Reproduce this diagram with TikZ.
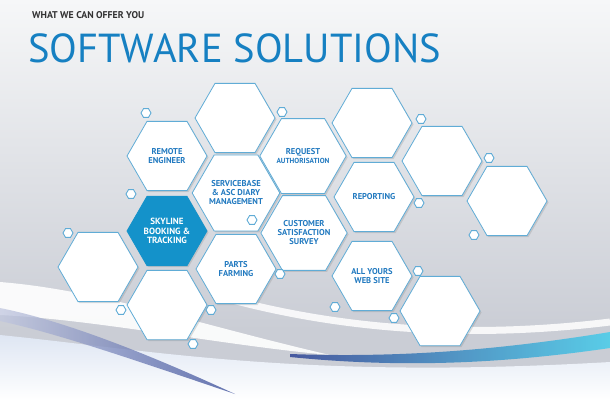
\documentclass[tikz,border=0pt]{standalone}
\usepackage{fontspec}
\setmainfont{PT Sans}
\usetikzlibrary{shapes.geometric,shadows,positioning}
\definecolor{hexline}{RGB}{96,172,214}
\definecolor{hextext}{RGB}{34,122,192}
\definecolor{skyblue}{RGB}{20,146,202}
\definecolor{titleblue}{RGB}{22,128,194}
\definecolor{subgray}{RGB}{50,50,50}
\definecolor{bgtop}{RGB}{246,247,248}
\definecolor{bgmid}{RGB}{202,205,213}
\definecolor{bglow}{RGB}{222,230,243}
\definecolor{streakblue}{RGB}{50,70,150}
\definecolor{streakcyan}{RGB}{70,205,235}
\tikzset{
  hexcell/.style={regular polygon,regular polygon sides=6,minimum size=80pt,
                  inner sep=0pt,draw=hexline,line width=0.8pt,fill=white,
                  align=center,text=hextext,
                  font=\fontsize{8.5}{9}\selectfont\bfseries,
                  drop shadow={shadow xshift=1.5pt,shadow yshift=-1.5pt,opacity=0.25}},
  hexon/.style={hexcell,fill=skyblue,draw=skyblue,text=white,
                font=\fontsize{9}{9.5}\selectfont\bfseries},
  hexdot/.style={regular polygon,regular polygon sides=6,minimum size=10pt,
                 inner sep=0pt,draw=hexline,line width=0.9pt,fill=white},
}

\begin{document}
\begin{tikzpicture}[x=1pt,y=-1pt]
  \useasboundingbox (0,0) rectangle (610,400);
  % backdrop and swooshes
  \shade[top color=bgtop,bottom color=bgmid] (0,0) rectangle (610,330);
  \fill[bgmid] (0,330) rectangle (610,400);
  \shade[top color=bglow,bottom color=white] (0,335)
        .. controls (150,350) and (300,380) .. (610,362)
        -- (610,400) -- (0,400) -- cycle;
  \fill[white,opacity=0.9] (0,282) .. controls (100,290) and (200,325) .. (330,355)
        .. controls (220,345) and (100,320) .. (0,315) -- cycle;
  \shade[left color=streakblue!30!white,right color=streakblue,opacity=0.75]
        (0,308) .. controls (60,320) and (140,350) .. (235,394)
        .. controls (140,362) and (60,334) .. (0,321) -- cycle;
  \shade[left color=streakblue,right color=streakcyan,opacity=0.85]
        (290,354) .. controls (400,358) and (500,350) .. (610,332)
        -- (610,348) .. controls (500,364) and (400,368) .. (290,357) -- cycle;
  \draw[white,line width=7pt,opacity=0.85] (225,298) .. controls (350,332) and (480,338) .. (610,322);

  % headings
  \node[anchor=base west,inner sep=0pt,text=subgray,font=\fontsize{9.8}{10}\selectfont\bfseries]
        (kicker) at (32,18.5) {WHAT WE CAN OFFER YOU};
  \node[anchor=base west,inner sep=0pt,text=titleblue,font=\fontsize{40.5}{40}\selectfont]
        (title) at (28,62) {SOFTWARE SOLUTIONS};

  % honeycomb
  \node[hexcell] (remote) at (167,156) {REMOTE\\ENGINEER};
  \node[hexcell] (topcell) at (235,118) {};
  \node[hexcell] (servicebase) at (236,193) {SERVICEBASE\\\& ASC DIARY\\MANAGEMENT};
  \node[hexon] (skyline) at (167,231) {SKYLINE\\BOOKING \&\\TRACKING};
  \node[hexcell] (parts) at (236,269) {PARTS\\FARMING};
  \node[hexcell] (leftcell) at (98,267) {};
  \node[hexcell] (lowcell) at (167,305) {};
  \node[hexcell] (request) at (303,156) {REQUEST\\{\fontsize{7.3}{8.5}\selectfont AUTHORISATION}};
  \node[hexcell] (customer) at (304,233) {CUSTOMER\\SATISFACTION\\SURVEY};
  \node[hexcell] (uppercell) at (372,123) {};
  \node[hexcell] (reporting) at (374,197) {REPORTING};
  \node[hexcell] (website) at (372,276) {ALL YOURS\\WEB SITE};
  \node[hexcell] (ringa) at (442,161) {};
  \node[hexcell] (ringb) at (507,201) {};
  \node[hexcell] (ringc) at (440,311) {};

  % little cells scattered round
  \foreach \x/\y [count=\i] in {146/113,282/112,131/194,252/220,421/119,489/158,
      419/203,474/235,68/233,280/274,121/310,211/310,193/344,418/271,335/307,394/318}
    \node[hexdot] (dot\i) at (\x,\y) {};
\end{tikzpicture}
\end{document}
